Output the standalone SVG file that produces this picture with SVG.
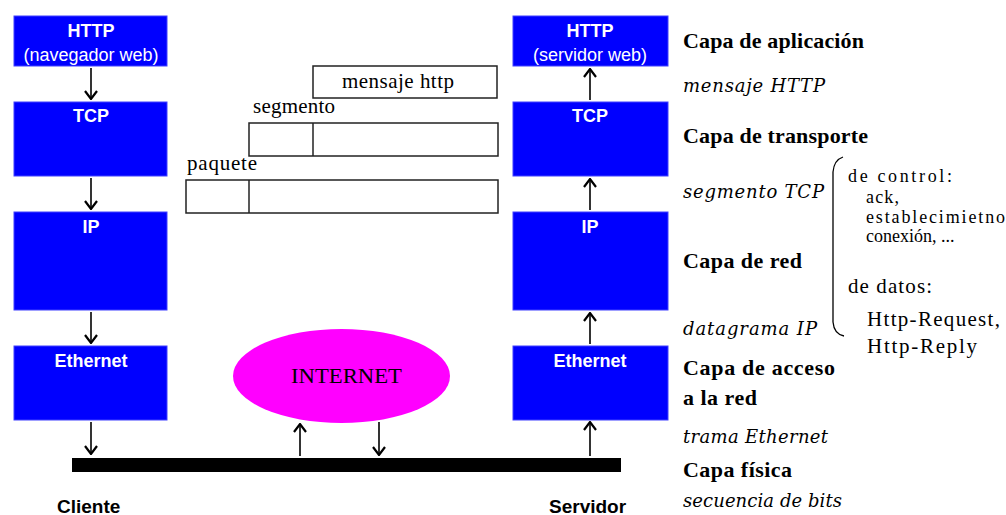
<svg xmlns="http://www.w3.org/2000/svg" width="1006" height="515" viewBox="0 0 1006 515">
<style>
.box{fill:#0000ff;stroke:#4040ff;stroke-width:1}
.bl{font-family:"Liberation Sans",Arial,sans-serif;font-weight:bold;font-size:18px;fill:#fff;text-anchor:middle}
.sub{font-family:"Liberation Sans",Arial,sans-serif;font-size:18px;fill:#fff;text-anchor:middle}
.pk{fill:#fff;stroke:#222;stroke-width:1.5}
.ser{font-family:"Liberation Serif","Times New Roman",serif;font-size:21px;fill:#000}
.sm{font-size:18px}
.hd{font-family:"Liberation Serif","Times New Roman",serif;font-weight:bold;font-size:22px;fill:#000}
.it{font-family:"DejaVu Serif",serif;font-style:italic;font-size:18px;fill:#000}
.cs{font-family:"Liberation Sans",Arial,sans-serif;font-weight:bold;font-size:19px;fill:#000}
.ar{stroke:#000;stroke-width:1.6;fill:none;marker-end:url(#ah)}
</style>
<defs>
<marker id="ah" viewBox="0 0 10 14" markerWidth="10" markerHeight="14" refX="9" refY="7" orient="auto" markerUnits="userSpaceOnUse">
<path d="M1,1 L9,7 L1,13" fill="none" stroke="#000" stroke-width="2.2"/>
</marker>
</defs>
<rect width="1006" height="515" fill="#fff"/>

<g id="client-http"><rect class="box" x="14" y="16" width="153" height="50"/><text class="bl" x="91" y="37">HTTP</text><text class="sub" x="91" y="61">(navegador web)</text></g>
<g id="client-tcp"><rect class="box" x="14" y="102" width="153" height="74"/><text class="bl" x="91" y="122">TCP</text></g>
<g id="client-ip"><rect class="box" x="14" y="212" width="153" height="98"/><text class="bl" x="91" y="233">IP</text></g>
<g id="client-eth"><rect class="box" x="14" y="346" width="153" height="74"/><text class="bl" x="91" y="367">Ethernet</text></g>

<g id="server-http"><rect class="box" x="513" y="16" width="155" height="50"/><text class="bl" x="590" y="37">HTTP</text><text class="sub" x="590" y="61">(servidor web)</text></g>
<g id="server-tcp"><rect class="box" x="513" y="102" width="155" height="74"/><text class="bl" x="590" y="122">TCP</text></g>
<g id="server-ip"><rect class="box" x="513" y="212" width="155" height="98"/><text class="bl" x="590" y="233">IP</text></g>
<g id="server-eth"><rect class="box" x="513" y="346" width="155" height="74"/><text class="bl" x="590" y="367">Ethernet</text></g>

<g id="internet"><ellipse cx="341.5" cy="376" rx="108.5" ry="47" fill="#ff00ff"/><text class="ser" x="291" y="383" font-size="22" textLength="111" lengthAdjust="spacingAndGlyphs">INTERNET</text></g>

<g id="bus"><rect x="72" y="458" width="549" height="14" fill="#000"/></g>

<g id="packets">
<rect class="pk" x="313" y="66" width="184" height="32"/>
<text class="ser" x="342" y="88" font-size="20" textLength="112" lengthAdjust="spacing">mensaje http</text>
<text class="ser" x="253" y="113" font-size="20" textLength="82" lengthAdjust="spacing">segmento</text>
<rect class="pk" x="249" y="123" width="249" height="33"/>
<line x1="313" y1="123" x2="313" y2="156" stroke="#222" stroke-width="1.5"/>
<text class="ser" x="187" y="170" font-size="20" textLength="70" lengthAdjust="spacing">paquete</text>
<rect class="pk" x="186" y="180" width="312" height="33"/>
<line x1="249" y1="180" x2="249" y2="213" stroke="#222" stroke-width="1.5"/>
</g>

<g id="connectors">
<line class="ar" x1="91" y1="68" x2="91" y2="99"/>
<line class="ar" x1="91" y1="178" x2="91" y2="209"/>
<line class="ar" x1="91" y1="312" x2="91" y2="343"/>
<line class="ar" x1="91" y1="422" x2="91" y2="454"/>
<line class="ar" x1="590" y1="100" x2="590" y2="69"/>
<line class="ar" x1="590" y1="210" x2="590" y2="179"/>
<line class="ar" x1="590" y1="344" x2="590" y2="313"/>
<line class="ar" x1="590" y1="456" x2="590" y2="422"/>
<line class="ar" x1="300" y1="456" x2="300" y2="424"/>
<line class="ar" x1="379" y1="422" x2="379" y2="455"/>
</g>

<g id="layers">
<text class="hd" x="683" y="48" textLength="181" lengthAdjust="spacing">Capa de aplicación</text>
<text class="it" x="683" y="92" textLength="142" lengthAdjust="spacing">mensaje HTTP</text>
<text class="hd" x="683" y="143" textLength="185" lengthAdjust="spacing">Capa de transporte</text>
<text class="it" x="683" y="198" textLength="141" lengthAdjust="spacing">segmento TCP</text>
<text class="hd" x="683" y="268" textLength="119" lengthAdjust="spacing">Capa de red</text>
<text class="it" x="683" y="335" textLength="134" lengthAdjust="spacing">datagrama IP</text>
<text class="hd" x="683" y="375" textLength="152" lengthAdjust="spacing">Capa de acceso</text>
<text class="hd" x="683" y="405" textLength="74" lengthAdjust="spacing">a la red</text>
<text class="it" x="683" y="443" textLength="145" lengthAdjust="spacing">trama Ethernet</text>
<text class="hd" x="683" y="477" textLength="109" lengthAdjust="spacing">Capa física</text>
<text class="it" x="683" y="507" textLength="159" lengthAdjust="spacing">secuencia de bits</text>
</g>

<g id="brace">
<path d="M843,157 Q834,160 833,172 L833,322 Q834,334 844,336" fill="none" stroke="#000" stroke-width="1.3"/>
<text class="ser sm" x="848" y="182" textLength="104" lengthAdjust="spacing">de control:</text>
<text class="ser sm" x="866" y="203" textLength="33" lengthAdjust="spacing">ack,</text>
<text class="ser sm" x="866" y="223" textLength="139" lengthAdjust="spacing">establecimietno</text>
<text class="ser sm" x="866" y="242">conexión, ...</text>
<text class="ser" x="848" y="293" textLength="84" lengthAdjust="spacing">de datos:</text>
<text class="ser" x="867" y="326" font-size="22" textLength="133" lengthAdjust="spacing">Http-Request,</text>
<text class="ser" x="867" y="353" font-size="22" textLength="110" lengthAdjust="spacing">Http-Reply</text>
</g>

<g id="labels">
<text class="cs" x="57" y="513">Cliente</text>
<text class="cs" x="549" y="513">Servidor</text>
</g>
</svg>
